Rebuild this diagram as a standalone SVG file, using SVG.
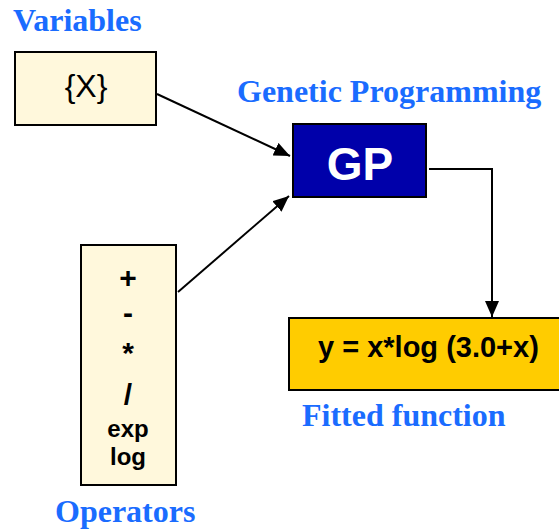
<svg xmlns="http://www.w3.org/2000/svg" width="559" height="531" viewBox="0 0 559 531">
  <style>
    .label { font-family: "Liberation Serif", "Times New Roman", serif; font-weight: bold; font-size: 32px; fill: #1a6cff; }
    .box { stroke: #000; stroke-width: 2; }
    .pale { fill: #fff8dc; }
    .sans { font-family: "Liberation Sans", Arial, sans-serif; }
    .op { font-family: "Liberation Sans", Arial, sans-serif; font-weight: bold; font-size: 30px; fill: #000; text-anchor: middle; }
    .fn { font-size: 24px; }
    .wire { fill: none; stroke: #000; stroke-width: 2; }
  </style>
  <defs>
    <marker id="arrow" viewBox="0 0 16 14" refX="16" refY="7" markerWidth="16" markerHeight="14" markerUnits="userSpaceOnUse" orient="auto">
      <path d="M0,0 L16,7 L0,14 Z" fill="#000"/>
    </marker>
  </defs>

  <rect width="559" height="531" fill="#fff"/>

  <!-- input variables -->
  <g id="variables">
    <text class="label" x="13" y="31">Variables</text>
    <rect class="box pale" x="15" y="52" width="141" height="73"/>
    <text class="sans" x="86" y="97" font-size="32" text-anchor="middle" fill="#000">{X}</text>
  </g>

  <!-- genetic programming engine -->
  <g id="gp">
    <text class="label" x="237" y="102">Genetic Programming</text>
    <rect class="box" x="293" y="124" width="133" height="73" fill="#0000aa"/>
    <text class="sans" x="360" y="180" font-size="46" font-weight="bold" text-anchor="middle" fill="#fff">GP</text>
  </g>

  <!-- operator set -->
  <g id="operators">
    <rect class="box pale" x="81" y="245" width="95" height="240"/>
    <text class="op" x="128" y="288">+</text>
    <text class="op" x="128" y="323">-</text>
    <text class="op" x="128" y="363">*</text>
    <text class="op" x="128" y="405">/</text>
    <text class="op fn" x="128" y="437">exp</text>
    <text class="op fn" x="128" y="465">log</text>
    <text class="label" x="55" y="522">Operators</text>
  </g>

  <!-- resulting function -->
  <g id="result">
    <rect class="box" x="289" y="318" width="290" height="72" fill="#ffcc00"/>
    <text class="sans" x="318" y="357" font-size="29" font-weight="bold" fill="#000">y = x*log (3.0+x)</text>
    <text class="label" x="302" y="426">Fitted function</text>
  </g>

  <g id="connectors">
    <line class="wire" x1="157" y1="94" x2="290" y2="156" marker-end="url(#arrow)"/>
    <line class="wire" x1="178" y1="292" x2="289" y2="196" marker-end="url(#arrow)"/>
    <polyline class="wire" points="429,169 492,169 492,317" marker-end="url(#arrow)"/>
  </g>
</svg>
